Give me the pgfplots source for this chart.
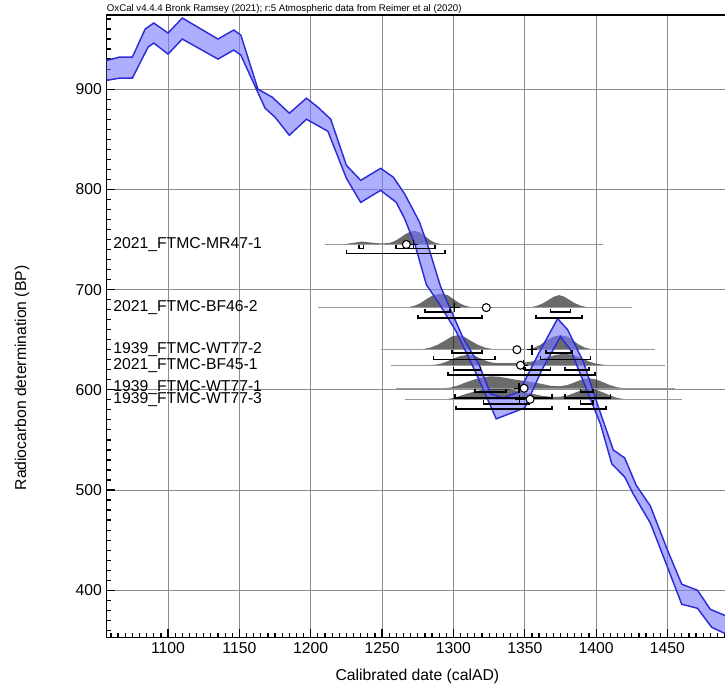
\documentclass[border=0pt]{standalone}
\usepackage{fontspec}
\setmainfont{Liberation Sans}
\usepackage{pgfplots}
\pgfplotsset{compat=1.18}
\definecolor{bandfill}{RGB}{120,120,255}
\definecolor{bandedge}{RGB}{45,45,215}
\newcommand{\lbl}{\fontsize{11.8}{14}\selectfont}

\begin{document}
\begin{tikzpicture}
\useasboundingbox (-80pt,-39.5pt) rectangle (463.7pt,477.95pt);
\begin{axis}[
    scale only axis,
    width=466pt, height=466.7pt,
    xmin=1057, xmax=1492.45, ymin=353, ymax=974,
    xtick={1100,1150,...,1450}, ytick={400,500,...,900},
    minor xtick={1060,1065,...,1490}, minor ytick={360,370,...,970},
    tick align=inside, tick pos=left,
    major tick length=6pt, minor tick length=3pt,
    every tick/.style={black, line width=0.9pt},
    grid=major, major grid style={black!45, line width=0.6pt},
    minor grid style={draw=none},
    axis line style={black, line width=1pt},
    ticklabel style={font=\lbl},
    /pgf/number format/assume math mode=true,
    /pgf/number format/set thousands separator={},
    xlabel={Calibrated date (calAD)},
    xlabel style={at={(rel axis cs:0.5,0)}, anchor=center, yshift=-29pt, font=\lbl},
    unbounded coords=jump,
]

% probability distributions (grey)
\addplot[fill=black, fill opacity=0.58, draw=none] coordinates {
(1222,745) (1229,746.5) (1236,748) (1243,746.8) (1250,746) (1255,746.5) (1259,748.5)
(1263,752) (1266.5,755.5) (1270,758) (1273,758.5) (1276.5,757) (1280,753.5)
(1283.5,749.5) (1287,746.8) (1290.5,745.6) (1295,745)} -- cycle;
\addplot[fill=black, fill opacity=0.58, draw=none] coordinates {
(1265,682.1) (1269,682.6) (1273,684) (1277,686.6) (1281,690.5) (1286,694.5) (1291,696)
(1296,694.5) (1300,690.5) (1304,686.6) (1308,684) (1312,682.6) (1316,682.1)
(1351,682.1) (1355,682.6) (1359,684) (1363,686.5) (1367,690) (1370.5,693) (1374,694.5)
(1377.5,693) (1381,690) (1385,686.5) (1389,684) (1393,682.6) (1397,682)} -- cycle;
\addplot[fill=black, fill opacity=0.58, draw=none] coordinates {
(1274,640.1) (1279,640.7) (1284,642.2) (1289,645) (1294,649) (1298.5,653) (1303,654.5)
(1307.5,653) (1312,649) (1317,645) (1322,642.2) (1327,640.7) (1332,640.1)
(1349,640.1) (1353,640.7) (1357,642.2) (1361,645) (1365,649) (1370,653) (1375,654.5)
(1380,653) (1384,649) (1388,645) (1392,642.2) (1396,640.7) (1400,640)} -- cycle;
\addplot[fill=black, fill opacity=0.58, draw=none] coordinates {
(1283,624.5) (1288,625.2) (1292,626.4) (1296,628.5) (1300,631.3) (1305,633.8) (1310,634.8)
(1315,633.8) (1319,631.3) (1323,628.8) (1327,627.2) (1333,626.5) (1340,626.5) (1348,626.8)
(1354,628) (1360,629.8) (1366,632.5) (1372,635) (1378,636) (1384,634.8) (1390,631.5)
(1395,628.2) (1400,626) (1405,625) (1410,624.5)} -- cycle;
\addplot[fill=black, fill opacity=0.58, draw=none] coordinates {
(1293,601.5) (1298,602.3) (1303,604.2) (1308,607) (1314,610) (1320,612.3) (1326,613.5) (1332,613)
(1338,611.5) (1344,610) (1350,608.8) (1356,607.5) (1362,605.8) (1368,604) (1374,603.5)
(1380,604.8) (1385,607.5) (1390,610.3) (1395,611.5) (1400,610.3) (1405,607.5) (1410,604.5)
(1415,602.5) (1420,601.5)} -- cycle;
\addplot[fill=black, fill opacity=0.58, draw=none] coordinates {
(1293,590.5) (1298,591.3) (1303,593.2) (1308,595.5) (1314,598) (1320,600) (1326,601.3)
(1332,601.5) (1338,600.8) (1344,599.3) (1350,597.5) (1356,595.8) (1362,594) (1368,593)
(1374,593) (1380,594.3) (1385,597) (1390,599.8) (1395,601) (1400,600) (1405,597.3)
(1410,594.2) (1415,591.8) (1421,590.5)} -- cycle;

% sample lines
\addplot[black!40, line width=0.5pt] coordinates {
(1210,745) (1405,745)
(1205,nan)
(1205,682) (1425,682)
(1250,nan)
(1249,640) (1441,640)
(1256,nan)
(1256,624.5) (1448,624.5)
(1260,nan)
(1260,601.5) (1455,601.5)
(1265,nan)
(1266,590.5) (1460,590.5)};

% calibration curve
\addplot[fill=bandfill, fill opacity=0.6, draw=bandedge, line width=1.1pt] coordinates {
(1050,930) (1058,929) (1066,932) (1075,932) (1084,960) (1090,966) (1100,956) (1110,971)
(1135,950) (1146,959) (1151,954) (1163,900) (1173,892) (1185,876) (1197,891) (1205,882)
(1214,870) (1225,824) (1235,809) (1249,821) (1258,812) (1266,795) (1276,768) (1283,740)
(1291,703) (1298,680) (1307,651) (1318,625) (1326,596) (1335,592) (1346,598) (1360,637)
(1373,671) (1380,660) (1391,628) (1403,577) (1412,540) (1420,532) (1428,505) (1438,484)
(1450,440) (1460,406) (1471,400) (1480,381) (1490,375) (1500,370)
(1500,352) (1490,357) (1481,363) (1471,382) (1460,386) (1450,423) (1438,467) (1426,496)
(1420,513) (1411,526) (1403,566) (1392,605) (1382,640) (1375,653) (1362,620) (1350,582)
(1330,571) (1316,616) (1302,658) (1290,686) (1281,705) (1273,745) (1266,770) (1260,787)
(1249,799) (1235,787) (1225,811) (1212,858) (1197,870) (1185,854) (1175,872) (1168,881)
(1151,934) (1146,939) (1135,930) (1110,950) (1100,935) (1090,946) (1086,942) (1075,911)
(1066,911) (1058,909) (1050,908)} -- cycle;

% calibrated ranges (68.3% upper row, 95.4% lower row)
\addplot[black, line width=1.3pt] coordinates {
(1234,744.5) (1234,741) (1237,741) (1237,744.5) (1240,nan)
(1260,744.5) (1260,741) (1287,741) (1287,744.5) (1290,nan)
(1225,739.5) (1225,736) (1294,736) (1294,739.5) (1296,nan)
(1280,681) (1280,677.5) (1297.5,677.5) (1297.5,681) (1300,nan)
(1368,681) (1368,677.5) (1382,677.5) (1382,681) (1385,nan)
(1275,675) (1275,671.5) (1320,671.5) (1320,675) (1322,nan)
(1358,675) (1358,671.5) (1390,671.5) (1390,675) (1392,nan)
(1299,640) (1299,636.5) (1320,636.5) (1320,640) (1322,nan)
(1365,640) (1365,636.5) (1383,636.5) (1383,640) (1385,nan)
(1286,633.7) (1286,630.2) (1329,630.2) (1329,633.7) (1331,nan)
(1361,633.7) (1361,630.2) (1396,630.2) (1396,633.7) (1398,nan)
(1300,623) (1300,619.5) (1319,619.5) (1319,623) (1321,nan)
(1350,623) (1350,619.5) (1368,619.5) (1368,623) (1370,nan)
(1378,623) (1378,619.5) (1395,619.5) (1395,623) (1397,nan)
(1296,618) (1296,614.5) (1399,614.5) (1399,618) (1401,nan)
(1315,601) (1315,597.5) (1337,597.5) (1337,601) (1339,nan)
(1389,601) (1389,597.5) (1398,597.5) (1398,601) (1400,nan)
(1301,595.5) (1301,592) (1369,592) (1369,595.5) (1371,nan)
(1378,595.5) (1378,592) (1410,592) (1410,595.5) (1412,nan)
(1321,589.5) (1321,586) (1353,586) (1353,589.5) (1355,nan)
(1389,589.5) (1389,586) (1398,586) (1398,589.5) (1400,nan)
(1302,584) (1302,580.5) (1369,580.5) (1369,584) (1371,nan)
(1381,584) (1381,580.5) (1407,580.5) (1407,584)};

% mean (+) and median (o)
\addplot[only marks, mark=+, mark size=3.6pt, black, line width=0.9pt] coordinates {
(1272,745) (1301,682) (1355,640) (1349,624.5) (1346,601.5) (1346.5,590.5)};
\addplot[only marks, mark=*, mark size=3pt, draw=black, fill=white, line width=0.8pt] coordinates {
(1267,745) (1323,682) (1344.5,640) (1347,624.5) (1349.5,601.5) (1353.7,590.5)};

% sample names
\node[anchor=base west, font=\lbl, inner sep=0pt] at (axis cs:1061.5,741) {2021\_FTMC-MR47-1};
\node[anchor=base west, font=\lbl, inner sep=0pt] at (axis cs:1061.5,677.7) {2021\_FTMC-BF46-2};
\node[anchor=base west, font=\lbl, inner sep=0pt] at (axis cs:1061.5,636) {1939\_FTMC-WT77-2};
\node[anchor=base west, font=\lbl, inner sep=0pt] at (axis cs:1061.5,620) {2021\_FTMC-BF45-1};
\node[anchor=base west, font=\lbl, inner sep=0pt] at (axis cs:1061.5,598.5) {1939\_FTMC-WT77-1};
\node[anchor=base west, font=\lbl, inner sep=0pt] at (axis cs:1061.5,586.5) {1939\_FTMC-WT77-3};
\end{axis}
\node[rotate=90, font=\lbl] at (-63.5pt,194.5pt) {Radiocarbon determination (BP)};
\node[anchor=base west, inner sep=0pt, font=\fontsize{7.25}{8}\selectfont] at (0pt,469pt)
    {OxCal v4.4.4 Bronk Ramsey (2021); r:5 Atmospheric data from Reimer et al (2020)};
\end{tikzpicture}
\end{document}
